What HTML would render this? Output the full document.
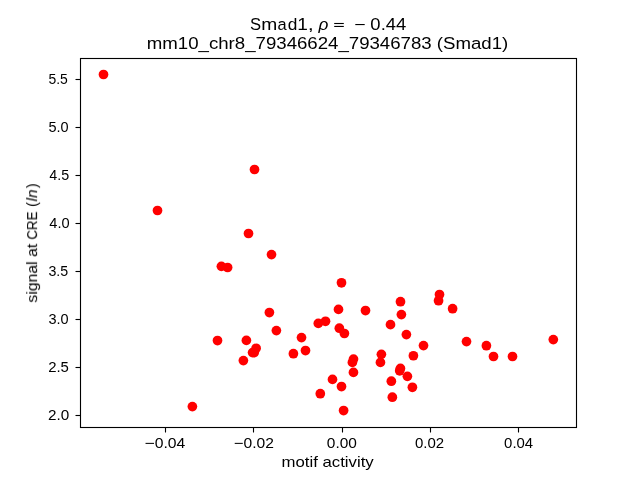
<!DOCTYPE html>
<html><head><meta charset="utf-8"><title>Smad1 scatter</title>
<style>html,body{margin:0;padding:0;background:#fff;width:640px;height:480px;overflow:hidden}svg{display:block}text{will-change:transform}</style>
</head><body>
<svg width="640" height="480" viewBox="0 0 640 480" font-family="'Liberation Sans', sans-serif" fill="#000">
<rect width="640" height="480" fill="#fff"/>
<g fill="#ff0000"><circle cx="103.50" cy="74.50" r="4.86"/><circle cx="157.50" cy="210.50" r="4.86"/><circle cx="254.50" cy="169.50" r="4.86"/><circle cx="248.50" cy="233.50" r="4.86"/><circle cx="271.50" cy="254.60" r="4.86"/><circle cx="221.40" cy="266.35" r="4.86"/><circle cx="227.60" cy="267.50" r="4.86"/><circle cx="269.40" cy="312.55" r="4.86"/><circle cx="276.40" cy="330.60" r="4.86"/><circle cx="217.50" cy="340.55" r="4.86"/><circle cx="246.40" cy="340.40" r="4.86"/><circle cx="256.10" cy="348.30" r="4.86"/><circle cx="252.55" cy="352.60" r="4.86"/><circle cx="254.25" cy="352.60" r="4.86"/><circle cx="243.40" cy="360.60" r="4.86"/><circle cx="293.40" cy="353.70" r="4.86"/><circle cx="301.50" cy="337.60" r="4.86"/><circle cx="305.50" cy="350.55" r="4.86"/><circle cx="192.40" cy="406.60" r="4.86"/><circle cx="341.50" cy="282.80" r="4.86"/><circle cx="338.50" cy="309.40" r="4.86"/><circle cx="365.50" cy="310.55" r="4.86"/><circle cx="318.30" cy="323.40" r="4.86"/><circle cx="325.50" cy="321.30" r="4.86"/><circle cx="339.35" cy="328.20" r="4.86"/><circle cx="344.40" cy="333.50" r="4.86"/><circle cx="390.50" cy="324.65" r="4.86"/><circle cx="353.50" cy="359.10" r="4.86"/><circle cx="352.40" cy="362.40" r="4.86"/><circle cx="353.45" cy="372.40" r="4.86"/><circle cx="381.40" cy="354.35" r="4.86"/><circle cx="380.45" cy="362.40" r="4.86"/><circle cx="332.50" cy="379.40" r="4.86"/><circle cx="341.50" cy="386.55" r="4.86"/><circle cx="320.30" cy="393.70" r="4.86"/><circle cx="343.60" cy="410.55" r="4.86"/><circle cx="391.35" cy="381.20" r="4.86"/><circle cx="392.35" cy="397.20" r="4.86"/><circle cx="400.50" cy="301.70" r="4.86"/><circle cx="401.40" cy="314.60" r="4.86"/><circle cx="406.40" cy="334.60" r="4.86"/><circle cx="439.50" cy="294.55" r="4.86"/><circle cx="438.55" cy="300.70" r="4.86"/><circle cx="452.60" cy="308.70" r="4.86"/><circle cx="423.50" cy="345.60" r="4.86"/><circle cx="413.40" cy="355.75" r="4.86"/><circle cx="400.45" cy="368.40" r="4.86"/><circle cx="399.70" cy="370.80" r="4.86"/><circle cx="407.40" cy="376.35" r="4.86"/><circle cx="412.40" cy="387.30" r="4.86"/><circle cx="466.50" cy="341.60" r="4.86"/><circle cx="486.40" cy="345.70" r="4.86"/><circle cx="493.50" cy="356.50" r="4.86"/><circle cx="512.50" cy="356.50" r="4.86"/><circle cx="553.30" cy="339.60" r="4.86"/></g>
<rect x="80.5" y="58.5" width="496.0" height="369.0" fill="none" stroke="#000" stroke-width="1.111" stroke-linejoin="miter" stroke-linecap="square"/>
<g stroke="#000" stroke-width="1.111"><line x1="75.50" y1="79.50" x2="80.5" y2="79.50"/><line x1="75.50" y1="127.50" x2="80.5" y2="127.50"/><line x1="75.50" y1="175.50" x2="80.5" y2="175.50"/><line x1="75.50" y1="223.50" x2="80.5" y2="223.50"/><line x1="75.50" y1="271.50" x2="80.5" y2="271.50"/><line x1="75.50" y1="319.50" x2="80.5" y2="319.50"/><line x1="75.50" y1="367.50" x2="80.5" y2="367.50"/><line x1="75.50" y1="415.50" x2="80.5" y2="415.50"/><line x1="165.50" y1="427.5" x2="165.50" y2="432.50"/><line x1="253.50" y1="427.5" x2="253.50" y2="432.50"/><line x1="342.50" y1="427.5" x2="342.50" y2="432.50"/><line x1="430.50" y1="427.5" x2="430.50" y2="432.50"/><line x1="518.50" y1="427.5" x2="518.50" y2="432.50"/></g>
<g><text transform="translate(48.419,84.000) scale(0.9610,1)" font-size="14.550">5.5</text><text transform="translate(48.401,132.000) scale(0.9974,1)" font-size="14.550">5.0</text><text transform="translate(49.354,180.000) scale(0.9846,1)" font-size="14.550">4.5</text><text transform="translate(49.249,228.000) scale(1.0051,1)" font-size="14.550">4.0</text><text transform="translate(48.412,276.000) scale(0.9766,1)" font-size="14.550">3.5</text><text transform="translate(48.401,324.000) scale(0.9974,1)" font-size="14.550">3.0</text><text transform="translate(48.130,372.000) scale(1.0263,1)" font-size="14.550">2.5</text><text transform="translate(48.112,420.000) scale(1.0500,1)" font-size="14.550">2.0</text><text transform="translate(144.500,447.900) scale(1.2000,1)" font-size="14.550">−</text><text transform="translate(154.660,447.900) scale(1.0800,1)" font-size="14.550">0.04</text><text transform="translate(233.680,447.900) scale(1.1400,1)" font-size="14.550">−</text><text transform="translate(243.462,447.900) scale(1.0752,1)" font-size="14.550">0.02</text><text transform="translate(326.870,447.900) scale(1.0606,1)" font-size="14.550">0.00</text><text transform="translate(414.984,447.900) scale(1.0312,1)" font-size="14.550">0.02</text><text transform="translate(504.087,447.900) scale(1.0255,1)" font-size="14.550">0.04</text></g>
<g><text transform="translate(249.945,29.800) scale(0.9540,1)" font-size="17.400">S</text><text transform="translate(261.245,29.800) scale(1.1048,1)" font-size="17.400">m</text><text transform="translate(277.592,29.800) scale(0.9444,1)" font-size="17.400">a</text><text transform="translate(287.655,29.800) scale(0.9938,1)" font-size="17.400">d</text><text transform="translate(297.129,29.800) scale(1.0968,1)" font-size="17.400">1</text><text transform="translate(307.731,29.800) scale(1.2500,1)" font-size="17.400">,</text><text transform="translate(318.595,29.800) scale(0.9900,1)" font-size="17.400"><tspan font-style="italic">ρ</tspan></text><text transform="translate(370.370,29.800) scale(1.0606,1)" font-size="17.400">0.44</text><text transform="translate(146.828,48.750) scale(1.0718,1)" font-size="17.400">mm10_chr8_79346624_79346783 (Smad1)</text><text transform="translate(281.548,466.800) scale(1.1519,1)" font-size="14.550">motif activity</text><text transform="translate(37.100,302.643) rotate(-90) scale(1.0865,1)" font-size="14.550">signal at</text><text transform="translate(37.100,239.586) rotate(-90) scale(0.9153,1)" font-size="14.550">CRE</text><text transform="translate(37.100,206.900) rotate(-90) scale(1.0000,1)" font-size="14.550">(</text><text transform="translate(37.100,201.462) rotate(-90) scale(1.0476,1)" font-size="14.550"><tspan font-style="italic">ln</tspan></text><text transform="translate(37.100,188.200) rotate(-90) scale(1.0000,1)" font-size="14.550">)</text></g>
<g fill="#000"><rect x="334.2" y="22.95" width="9.6" height="1.1"/><rect x="334.2" y="25.9" width="9.6" height="1.1"/><rect x="355.3" y="24.0" width="9.4" height="1.1"/></g>
</svg>
</body></html>
